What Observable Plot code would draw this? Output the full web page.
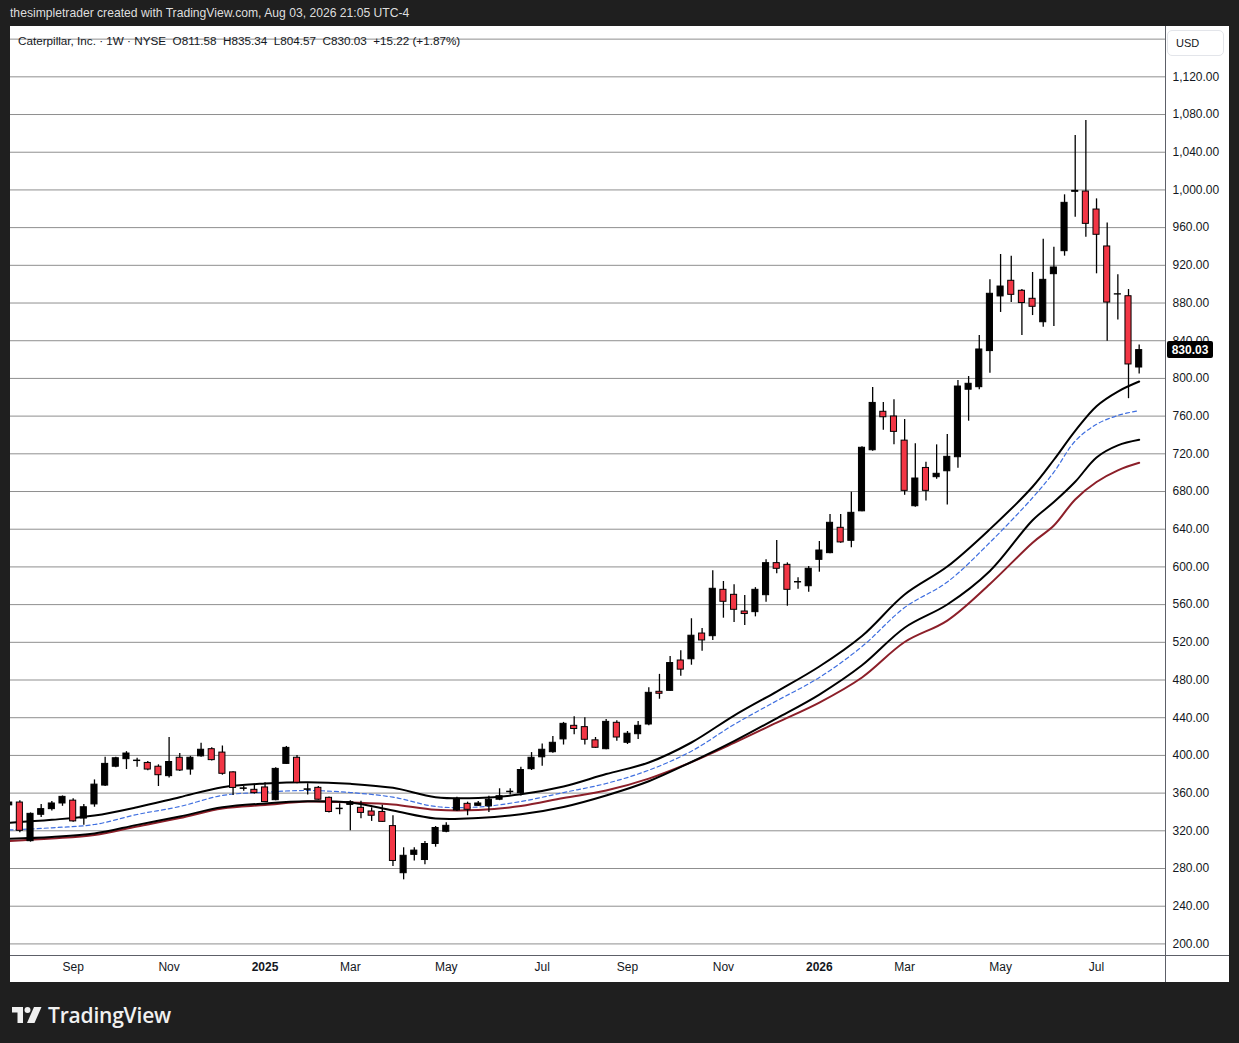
<!DOCTYPE html>
<html>
<head>
<meta charset="utf-8">
<script src="https://cdn.jsdelivr.net/npm/d3@7"></script>
<script src="https://cdn.jsdelivr.net/npm/@observablehq/plot@0.6"></script>
<style>
  html, body { margin: 0; padding: 0; background: #1f1f1f; }
  body { width: 1239px; height: 1043px; position: relative; overflow: hidden; font-family: "Liberation Sans", Arial, sans-serif; }
  #hdr { position: absolute; left: 10px; top: 6px; color: #dedede; font-size: 12.15px; line-height: 15px; white-space: pre; }
  #box { position: absolute; left: 10px; top: 26px; width: 1219px; height: 956px; background: #fff; overflow: hidden; }
  #chart { position: absolute; left: 0; top: 0; }
  #legend { position: absolute; left: 8px; top: 8px; font-size: 11.7px; line-height: 14px; color: #131722; white-space: pre; }
  #usd { position: absolute; left: 1157px; top: 4px; width: 57px; height: 26px; box-sizing: border-box; border: 1px solid #e3e5ea; border-radius: 5px; background: #fff; font-size: 11px; line-height: 24px; padding-left: 8px; color: #131722; }
  .sepv { position: absolute; left: 1155px; top: 0; width: 1px; height: 956px; background: #5d6068; }
  .seph { position: absolute; left: 0; top: 929px; width: 1219px; height: 1px; background: #5d6068; }
  #logo { position: absolute; left: 12px; top: 1001px; display: flex; align-items: center; color: #f0f0f0; }
  #logo span { font-family: "Open Sans", "Liberation Sans", sans-serif; font-weight: 600; font-size: 21px; letter-spacing: -0.2px; margin-left: 6px; }
</style>
</head>
<body>
<div id="hdr">thesimpletrader created with TradingView.com, Aug 03, 2026 21:05 UTC-4</div>
<div id="box">
  <div id="chart"></div>
  <div class="sepv"></div>
  <div class="seph"></div>
  <div id="legend">Caterpillar, Inc. · 1W · NYSE  O811.58  H835.34  L804.57  C830.03  +15.22 (+1.87%)</div>
  <div id="usd">USD</div>
</div>
<div id="logo">
  <svg width="30" height="18" viewBox="0 0 30 18">
    <path d="M0 1 H11 V17 H5.5 V6.5 H0 Z" fill="#f0f0f0"/>
    <circle cx="15.5" cy="4" r="3" fill="#f0f0f0"/>
    <path d="M22 1 H29.5 L22.5 17 H15 Z" fill="#f0f0f0"/>
  </svg>
  <span>TradingView</span>
</div>
<script>
// ---- weekly candles (first bar: week of 2024-07-22) ----
const firstWeek = "2024-07-22";
const opens  = [347,350,309,337,343,349,352,333,348,368,388,396,394,392,388,378,397.5,385,399,406.6,403,382,364.5,363.5,366,352.5,391,397.5,363.5,365.6,355,343,347.5,344.4,340.5,340,325,275,294.5,289,306,319,341.6,348.6,346.5,346,353,361,360,385.4,398,403.4,417,431.4,430,416,406.6,434.6,413.4,422.5,432.8,467.5,468.5,500.7,502,529.3,526.5,575.7,570.4,552.7,552,570,604,602.2,583.5,579.5,607.5,614.6,641.5,627.7,659,723.8,764.6,759.6,734,664.4,705,695.2,701.5,716.4,788,790.7,829,887,903.6,893,884.5,859.6,910.6,935,998,998.3,979.2,940,889,887.2,811.58];
const highs  = [352,352,339,348,351,357,354,348,374,398,398,404,397,393.5,390,419,402,399,413,408,410,382.6,367,369,371,387,409.5,400,370,367,356,348.6,352,351.4,344.4,347,336,302,302,308.6,324.6,328.5,355.7,350.4,351,356.7,364.6,364.6,387.5,403,412,420,435,441,440,419,438,436.7,425.4,436,471.7,486,505,511,545,534.6,596,584.5,581,569.6,578,607.5,628,604.3,588.4,600.4,627,655.6,655.6,679.3,727.4,790.3,774.4,777.3,756.4,730.6,711,729.5,740.5,797.8,802,845.5,904.6,931.5,929.7,894.3,912.4,947.7,939.2,994.8,1057.7,1073.6,990.5,965,910,894.3,835.34];
const lows   = [345,318,308,334,341,346,329,326,345,367,387,385,387.5,383.7,367,376,383,379,398,394,379,357.5,362,359,350,352,390.4,370,358,352.5,339,337,320,332.7,330,329,282,268,288,284,302.6,318,340.5,336,346,339.4,352,358,357,384,388.6,402.3,411,422,411,407.5,406,415,411.6,417,431.4,459.6,468,484,495.7,510.6,522,545.6,541,537.8,547,562.6,592.7,558.3,576.3,573.2,594.4,613.9,625,620.3,658.5,722.8,745,729.5,676,663.3,670,693,665.6,704.7,754.6,788,805.5,870,880.5,845.5,866.7,854.3,855,929.7,971,949.8,911,839.5,862,778.5,804.57];
const closes = [350,320,338,343,349,356,330,345,369,391,397,402,394.5,385,379,393,384,397.5,406,395,380.5,365.5,365,360,350.5,385.7,408,371,364,353,340,343.5,350.3,339,336,329.5,288,293.5,299,306,323,325.3,354,342.3,349,353,356.7,361.5,384.5,397.5,406,413.4,433.5,428,416.6,408.1,435.6,419,423,431.4,466.4,465.4,498,491,527,522,576.8,563,554.5,550,575.7,604,598,575.7,584,598,617.4,646.8,626,657.4,726.4,774,758.8,743.3,680.7,693.8,680.7,698.8,716.8,791.4,794.3,830.7,889.8,897.5,888.7,880,876,904.6,917.7,986.3,999,964,952.4,880.5,889.3,814.81,830.03];

// ---- overlay lines, read at these bar indices ----
const lineBars  = [0,4,8,12,16,20,24,28,32,36,40,44,48,52,56,60,64,68,72,76,80,84,88,92,96,98,100,102,104,106];
const upperBand = [328.5,331.7,336.2,345.0,355.7,366.3,370.2,371.6,369.9,365.6,355.7,354.8,358.7,367.0,380.2,392.5,413.7,442.3,467.8,494.3,526.7,570.7,600.4,640.1,685.1,713.7,744.4,770.6,786.1,796.7];
const midLine   = [320.9,323.2,326.7,337.3,345.8,357.5,361.0,362.8,360.6,355.7,345.8,345.3,351.1,360.6,370.2,384.3,404.5,432.8,457.9,482.7,515.5,556.9,584.0,626.0,673.4,700.6,733.6,751.3,760.7,765.9];
const lowerBand = [311.5,313.4,317.1,326.3,335.2,344.9,349.0,351.3,350.0,341.5,333.1,333.6,337.5,345.3,357.5,372.6,393.0,415.1,439.4,464.6,495.6,535.5,560.1,595.7,649.6,668.8,690.3,716.2,729.0,734.9];
const redLine   = [309.2,311.8,315.5,324.6,333.6,343.7,347.4,351.1,350.0,347.9,342.3,342.1,346.3,354.8,362.8,375.4,392.9,413.3,434.8,456.1,482.7,520.3,543.1,581.9,625.7,643.9,671.6,690.1,702.5,710.5];

// ---- price axis ----
const gridPrices = d3.range(200, 1161, 40);
const axisPrices = d3.range(200, 1121, 40);
const lastClose = closes[closes.length - 1];

const start = new Date(firstWeek + "T00:00:00Z");
const dates = opens.map((_, i) => d3.utcDay.offset(start, 7 * i));
const candles = opens.map((o, i) => ({date: dates[i], open: o, high: highs[i], low: lows[i], close: closes[i]}));
const lines = lineBars.map((b, j) => ({date: dates[b], upper: upperBand[j], mid: midLine[j], lower: lowerBand[j], red: redLine[j]}));

const monthStarts = dates.filter((d, i) => i > 0 && d.getUTCMonth() !== dates[i - 1].getUTCMonth());
const monthTicks = monthStarts.filter(d => d.getUTCMonth() % 2 === 0 && d.getUTCMonth() !== 0);
const yearTicks = monthStarts.filter(d => d.getUTCMonth() === 0);

const halfBody = 2.0 * 864e5;
const font = "'Liberation Sans', Arial, sans-serif";

const chart = Plot.plot({
  width: 1219,
  height: 956,
  marginLeft: 0,
  marginRight: 64,
  marginTop: 0,
  marginBottom: 27,
  style: {background: "transparent", fontFamily: font, fontSize: "12px", color: "#131722"},
  x: {type: "utc", domain: [new Date("2024-07-22T20:30:00Z"), new Date("2026-08-20T07:00:00Z")], axis: null},
  y: {domain: [187.7, 1173.4], axis: null},
  color: {type: "identity"},
  marks: [
    Plot.ruleY(gridPrices, {stroke: "#8f8f8f", strokeWidth: 1}),
    Plot.line(lines, {x: "date", y: "red", stroke: "#8c1f29", strokeWidth: 2, curve: "catmull-rom", clip: true}),
    Plot.line(lines, {x: "date", y: "lower", stroke: "#000", strokeWidth: 2, curve: "catmull-rom", clip: true}),
    Plot.line(lines, {x: "date", y: "mid", stroke: "#3f6fe0", strokeWidth: 1.2, strokeDasharray: "4,3", curve: "catmull-rom", clip: true}),
    Plot.line(lines, {x: "date", y: "upper", stroke: "#000", strokeWidth: 2, curve: "catmull-rom", clip: true}),
    Plot.ruleX(candles, {x: "date", y1: "low", y2: "high", stroke: "#000", strokeWidth: 1.3, clip: true}),
    Plot.rect(candles, {
      x1: d => new Date(+d.date - halfBody),
      x2: d => new Date(+d.date + halfBody),
      y1: "open", y2: "close",
      fill: d => d.close >= d.open ? "#000" : "#f23645",
      stroke: "#000", strokeWidth: 1, clip: true
    }),
    Plot.axisY({ticks: axisPrices, anchor: "right", tickSize: 0, tickPadding: 7, tickFormat: d3.format(",.2f"), fontSize: 12, fill: "#131722"}),
    Plot.axisX({ticks: monthTicks, anchor: "bottom", tickSize: 0, tickPadding: 7, tickFormat: d3.utcFormat("%b"), fontSize: 12, fill: "#131722"}),
    Plot.axisX({ticks: yearTicks, anchor: "bottom", tickSize: 0, tickPadding: 7, tickFormat: d3.utcFormat("%Y"), fontSize: 12, fontWeight: "bold", fill: "#131722"})
  ]
});
document.getElementById("chart").append(chart);

// last price tag on the price scale
const yPos = chart.scale("y").apply(lastClose);
const tag = d3.select(chart).append("g");
tag.append("rect").attr("x", 1157).attr("y", yPos - 8.5).attr("width", 46).attr("height", 17).attr("rx", 2).attr("fill", "#000");
tag.append("text").attr("x", 1180).attr("y", yPos).attr("dy", "0.35em").attr("text-anchor", "middle")
  .attr("fill", "#fff").attr("font-weight", "bold").attr("font-size", 12).attr("font-family", font)
  .text(d3.format(",.2f")(lastClose));
</script>
</body>
</html>
